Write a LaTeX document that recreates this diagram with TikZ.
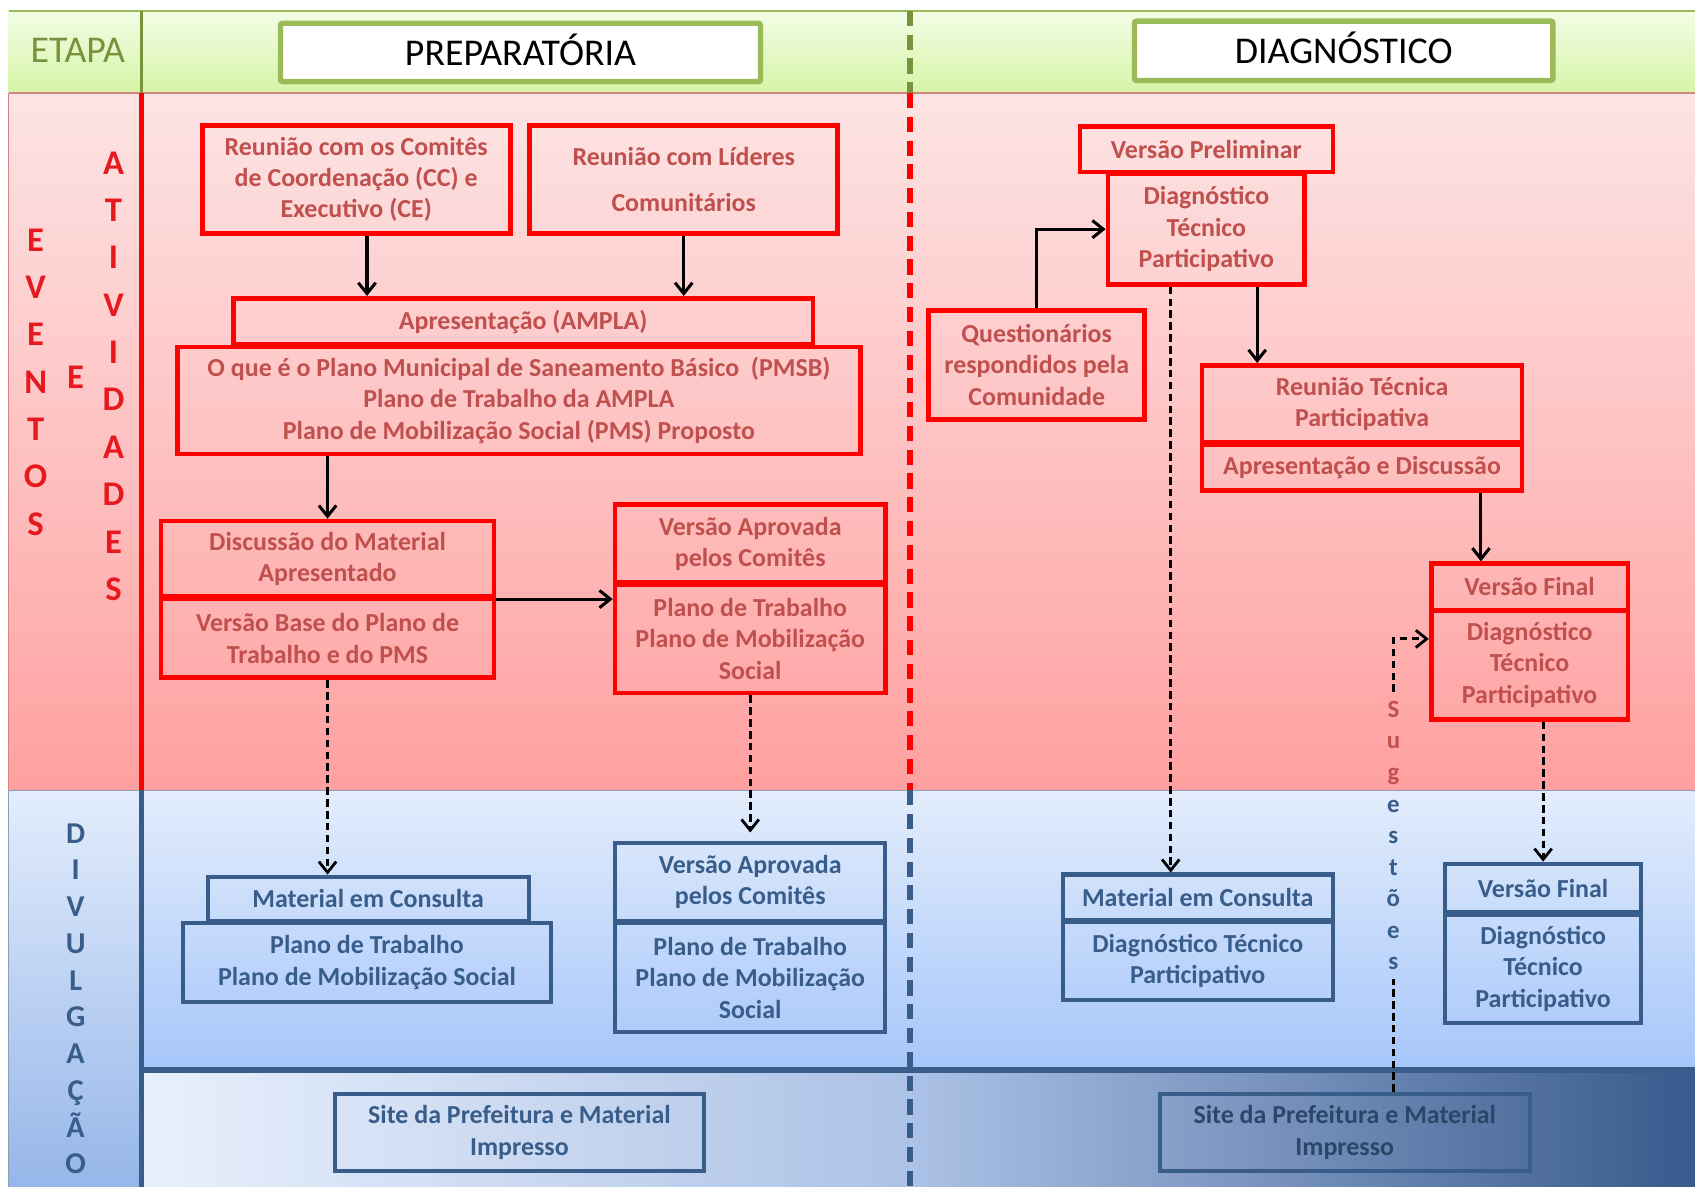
\documentclass[tikz,border=0pt]{standalone}
\usepackage{fontspec}
\setmainfont{Carlito}
\usetikzlibrary{arrows.meta}

\definecolor{hdrtop}{RGB}{243,252,230}
\definecolor{hdrbot}{RGB}{214,245,166}
\definecolor{hdrgreen}{RGB}{155,187,89}
\definecolor{etapagreen}{RGB}{119,147,60}
\definecolor{redtop}{RGB}{253,228,228}
\definecolor{redbot}{RGB}{255,160,160}
\definecolor{bluetop}{RGB}{227,237,252}
\definecolor{bluebot}{RGB}{166,198,250}
\definecolor{bandleft}{RGB}{232,240,252}
\definecolor{bandmid}{RGB}{172,194,230}
\definecolor{bandright}{RGB}{56,90,140}
\definecolor{boxred}{RGB}{255,0,0}
\definecolor{txtred}{RGB}{192,80,77}
\definecolor{lblred}{RGB}{230,25,30}
\definecolor{boxblue}{RGB}{56,93,138}

\tikzset{
    redbox/.style = {draw = boxred, line width = 2.2pt, text = txtred, align = center, inner sep = 0pt,
        font = \bfseries\fontsize{12}{14.5}\selectfont},
    bluebox/.style = {draw = boxblue, line width = 1.9pt, text = boxblue, align = center, inner sep = 0pt,
        font = \bfseries\fontsize{12}{14.5}\selectfont},
    hdrbox/.style = {draw = hdrgreen, line width = 2.5pt, fill = white, rounded corners = 1pt,
        text height = 12.5pt, text depth = 0.5pt, font = \fontsize{17.5}{20}\selectfont},
    flow/.style = {line width = 1.4pt, -{Straight Barb[length = 5pt, width = 8pt]}},
    flowdash/.style = {flow, line width = 1.3pt, dash pattern = on 3.5pt off 2pt},
    dashline/.style = {line width = 1.3pt, dash pattern = on 3.5pt off 2pt}
}

\begin{document}
\begin{tikzpicture}[x = 0.5pt, y = -0.5pt]
    \useasboundingbox (0, 0) rectangle (1568, 1098);

    % === Background bands ===
    % Etapa (header)
    \fill[top color = hdrtop, bottom color = hdrbot] (8, 10) rectangle (1568, 86);
    \draw[hdrgreen, line width = 0.8pt] (8, 10) -- (1568, 10);
    % Eventos e atividades
    \fill[top color = redtop, bottom color = redbot] (8, 86) rectangle (1568, 731);
    \draw[txtred!70, line width = 0.6pt] (8, 86) -- (1568, 86) (8, 86) -- (8, 731);
    % Divulgacao
    \fill[top color = bluetop, bottom color = bluebot] (131, 731) rectangle (1568, 990);
    \fill[top color = bluetop, bottom color = bluebot!85!boxblue] (8, 731) rectangle (131, 1098);
    \fill[left color = bandleft, right color = bandmid] (131, 990) rectangle (842, 1098);
    \fill[left color = bandmid, right color = bandright] (842, 990) rectangle (1568, 1098);
    \draw[boxblue!60, line width = 0.6pt] (8, 731) -- (1568, 731) (8, 731) -- (8, 1098);

    % === Dividers ===
    \draw[etapagreen, line width = 1.6pt] (131, 10) -- (131, 86);
    \draw[boxred, line width = 2.3pt] (131, 86) -- (131, 731);
    \draw[boxblue, line width = 2.3pt] (131, 731) -- (131, 1098);
    \draw[boxblue, line width = 3pt] (131, 990) -- (1568, 990);
    \draw[etapagreen, line width = 2.6pt, dash pattern = on 7pt off 4pt] (842, 10) -- (842, 86);
    \draw[boxred, line width = 2.6pt, dash pattern = on 7pt off 4pt] (842, 86) -- (842, 731);
    \draw[boxblue, line width = 2.6pt, dash pattern = on 7pt off 4pt] (842, 731) -- (842, 1098);

    % === Row labels ===
    \node[text = etapagreen, font = \fontsize{17.5}{20}\selectfont] (etapa) at (72, 47) {ETAPA};
    \node[text = lblred, align = center, font = \bfseries\fontsize{16}{21.9}\selectfont] (eventos)
        at (33, 353.5) {E\\V\\E\\N\\T\\O\\S};
    \node[text = lblred, font = \bfseries\fontsize{16}{20}\selectfont] (conj) at (70, 349) {E};
    \node[text = lblred, align = center, font = \bfseries\fontsize{16}{21.9}\selectfont] (atividades)
        at (105, 348) {A\\T\\I\\V\\I\\D\\A\\D\\E\\S};
    \node[text = boxblue, align = center, font = \bfseries\fontsize{14}{17}\selectfont] (divulgacao)
        at (70, 924) {D\\I\\V\\U\\L\\G\\A\\Ç\\Ã\\O};

    % === Stages ===
    \node[hdrbox, minimum width = 222pt, minimum height = 27pt] (prep) at (481.5, 48.5) {PREPARATÓRIA};
    \node[hdrbox, minimum width = 193.5pt, minimum height = 27.5pt] (diag) at (1243, 47) {DIAGNÓSTICO};

    % === Preparatoria: events and activities ===
    % Reunioes
    \node[redbox, minimum width = 142.5pt, minimum height = 50pt] (comites) at (329.5, 166)
        {Reunião com os Comitês\\de Coordenação (CC) e\\Executivo (CE)};
    \node[redbox, minimum width = 142.5pt, minimum height = 50pt] (lideres) at (632.5, 166)
        {Reunião com Líderes\\[6.5pt]Comunitários};

    % Apresentacao (AMPLA)
    \node[redbox, minimum width = 268pt, minimum height = 21.5pt] (ampla) at (484, 297.5)
        {Apresentação (AMPLA)};
    \node[redbox, minimum width = 316pt, minimum height = 49.5pt] (pmsb) at (480, 370.5)
        {O que é o Plano Municipal de Saneamento Básico~ (PMSB)\\Plano de Trabalho da AMPLA\\
        Plano de Mobilização Social (PMS) Proposto};

    % Discussao
    \node[redbox, minimum width = 154pt, minimum height = 35pt] (discussao) at (303, 517)
        {Discussão do Material\\Apresentado};
    \node[redbox, minimum width = 154pt, minimum height = 36.5pt] (versaobase) at (303, 590.5)
        {Versão Base do Plano de\\Trabalho e do PMS};

    % Versao aprovada
    \node[redbox, minimum width = 125pt, minimum height = 36pt] (aprovada) at (694, 503)
        {Versão Aprovada\\pelos Comitês};
    \node[redbox, minimum width = 125pt, minimum height = 50pt] (planos) at (694, 591)
        {Plano de Trabalho\\Plano de Mobilização\\Social};

    % === Preparatoria: divulgacao ===
    \node[bluebox, minimum width = 148.5pt, minimum height = 20.5pt] (consulta) at (340.5, 831.5)
        {Material em Consulta};
    \node[bluebox, minimum width = 170.5pt, minimum height = 36.5pt] (planosdiv) at (339.5, 890.5)
        {Plano de Trabalho\\Plano de Mobilização Social};
    \node[bluebox, minimum width = 125pt, minimum height = 36pt] (aprovadadiv) at (694, 816)
        {Versão Aprovada\\pelos Comitês};
    \node[bluebox, minimum width = 125pt, minimum height = 50.5pt] (planosdivb) at (694, 904.5)
        {Plano de Trabalho\\Plano de Mobilização\\Social};
    \node[bluebox, minimum width = 170.5pt, minimum height = 35.5pt] (siteprep) at (480.5, 1047.5)
        {Site da Prefeitura e Material\\Impresso};

    % === Diagnostico: events and activities ===
    % Versao preliminar
    \node[redbox, minimum width = 117pt, minimum height = 21pt] (preliminar) at (1116, 138)
        {Versão Preliminar};
    \node[redbox, minimum width = 91pt, minimum height = 51pt] (diagtec) at (1116, 212)
        {Diagnóstico\\Técnico\\Participativo};

    % Questionarios
    \node[redbox, minimum width = 100pt, minimum height = 50.5pt] (questionarios) at (959, 337.5)
        {Questionários\\respondidos pela\\Comunidade};

    % Reuniao tecnica
    \node[redbox, minimum width = 148pt, minimum height = 35.5pt] (reuniaotec) at (1260, 373.5)
        {Reunião Técnica\\Participativa};
    \node[redbox, minimum width = 148pt, minimum height = 21.5pt] (apdiscussao) at (1260, 432.5)
        {Apresentação e Discussão};

    % Versao final
    \node[redbox, minimum width = 91pt, minimum height = 21.5pt] (final) at (1415, 543)
        {Versão Final};
    \node[redbox, minimum width = 91pt, minimum height = 50.5pt] (diagfinal) at (1415, 615)
        {Diagnóstico\\Técnico\\Participativo};

    % === Diagnostico: divulgacao ===
    \node[bluebox, minimum width = 125pt, minimum height = 21pt] (consultadiag) at (1108, 830)
        {Material em Consulta};
    \node[bluebox, minimum width = 125pt, minimum height = 36pt] (diagdiv) at (1108, 889)
        {Diagnóstico Técnico\\Participativo};
    \node[bluebox, minimum width = 90.5pt, minimum height = 22.5pt] (finaldiv) at (1427.5, 821.5)
        {Versão Final};
    \node[bluebox, minimum width = 90.5pt, minimum height = 50pt] (diagfinaldiv) at (1427.5, 896)
        {Diagnóstico\\Técnico\\Participativo};
    \node[bluebox, text = boxblue!75!black, minimum width = 171pt, minimum height = 35.5pt] (sitediag)
        at (1244, 1047.5) {Site da Prefeitura e Material\\Impresso};

    % Sugestoes
    \node[text = boxblue, align = center, inner sep = 4pt, font = \bfseries\fontsize{11.5}{14.6}\selectfont]
        (sug) at (1289, 773) {\textcolor{txtred}{S}\\\textcolor{txtred}{u}\\\textcolor{txtred}{g}\\
        e\\s\\t\\õ\\e\\s};

    % === Connections ===
    \draw[flow] ([xshift = 5pt]comites.south) -- ([xshift = 5pt]comites.south |- ampla.north);
    \draw[flow] (lideres.south) -- (lideres.south |- ampla.north);
    \draw[flow] (discussao.north |- pmsb.south) -- (discussao.north);
    \draw[flow] (discussao.south east) -- (discussao.south east -| planos.west);
    \draw[flowdash] (versaobase.south) -- (versaobase.south |- consulta.north);
    \draw[flowdash, shorten > = 4pt] (planos.south) -- (aprovadadiv.north);

    \draw[flow] (questionarios.north) |- (diagtec.west);
    \draw[flow] ([xshift = 23.5pt]diagtec.south) -- ([xshift = 23.5pt]diagtec.south |- reuniaotec.north);
    \draw[flow] ([xshift = -22.5pt]final.north |- apdiscussao.south) -- ([xshift = -22.5pt]final.north);
    \draw[flowdash] ([xshift = -16.5pt]diagtec.south) -- ([xshift = -16.5pt]diagtec.south |- consultadiag.north);
    \draw[flowdash] (diagfinal.south -| finaldiv.north) -- (finaldiv.north);
    \draw[dashline] (sug.south |- sitediag.north) -- (sug.south);
    \draw[flowdash] (sug.north) |- ([yshift = 12pt]diagfinal.west);
\end{tikzpicture}
\end{document}
